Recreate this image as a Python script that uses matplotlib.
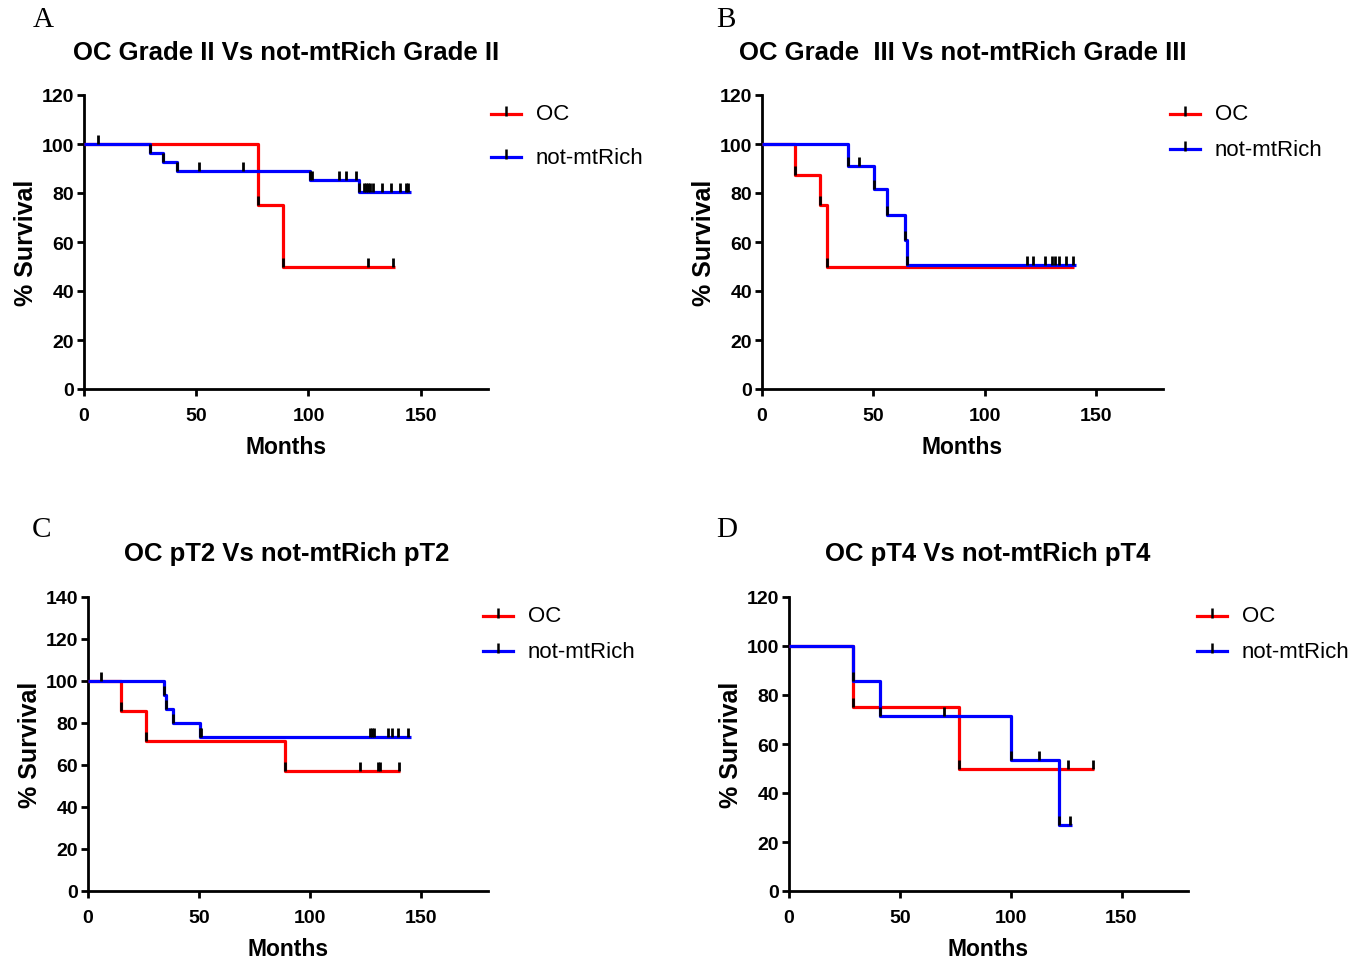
import matplotlib
matplotlib.use('Agg')
import matplotlib.pyplot as plt
from matplotlib.lines import Line2D
import numpy as np

NARROW = ['Liberation Sans Narrow', 'Liberation Sans', 'DejaVu Sans']
SERIF = ['Liberation Serif', 'DejaVu Serif']

# Panel A - Grade II
a_oc_t = [77.5, 88.5]
a_oc_s = [75, 50]
a_oc_end = 138.5
a_oc_cens = [126.6, 137.8]
a_nm_t = [29.5, 35.4, 41.4, 100.9, 122.5]
a_nm_s = [96.3, 92.6, 88.9, 85.2, 80.5]
a_nm_end = 145.5
a_nm_cens = [6.4, 51.3, 70.7, 101.4, 113.5, 116.8, 121.4, 124.7, 125.6, 126.5,
             127.4, 128.6, 132.9, 136.6, 141.0, 143.3, 144.3]

# Panel B - Grade III
b_oc_t = [14.9, 26.1, 29.1]
b_oc_s = [87.5, 75, 50]
b_oc_end = 140.0
b_oc_cens = []
b_nm_t = [38.4, 50.1, 56.1, 64.4, 65.2]
b_nm_s = [90.9, 81.8, 71.0, 60.7, 50.5]
b_nm_end = 141.0
b_nm_cens = [43.4, 118.9, 121.8, 127.0, 130.0, 131.5, 133.5, 136.5, 139.5]

# Panel C - pT2
c_oc_t = [14.9, 26.1, 88.6]
c_oc_s = [85.7, 71.4, 57.1]
c_oc_end = 140.5
c_oc_cens = [122.4, 130.4, 131.3, 139.8]
c_nm_t = [34.3, 35.2, 38.1, 50.6]
c_nm_s = [93.3, 86.7, 80.0, 73.3]
c_nm_end = 145.5
c_nm_cens = [5.9, 51.0, 126.8, 127.6, 128.5, 135.0, 136.9, 139.5, 144.0]

# Panel D - pT4
d_oc_t = [29.0, 76.7]
d_oc_s = [75, 50]
d_oc_end = 137.8
d_oc_cens = [125.8, 137.1]
d_nm_t = [29.0, 41.0, 100.0, 122.0]
d_nm_s = [85.7, 71.4, 53.6, 26.8]
d_nm_end = 127.6
d_nm_cens = [70.0, 113.0, 126.9]

titles = ['OC Grade II Vs not-mtRich Grade II',
          'OC Grade  III Vs not-mtRich Grade III',
          'OC pT2 Vs not-mtRich pT2',
          'OC pT4 Vs not-mtRich pT4']
letters = ['A', 'B', 'C', 'D']
ymaxes = [120, 120, 140, 120]
series_names = ['OC', 'not-mtRich']
colors = ['#ff0000', '#0000ff']


def surv_at(times, surv, t):
    s = 100.0
    for ti, si in zip(times, surv):
        if t >= ti:
            s = si
    return s


def draw_curve(ax, times, surv, end, cens, color):
    xs = [0] + list(times) + [end]
    ys = [100] + list(surv) + [surv[-1]]
    ax.step(xs, ys, where='post', color=color, lw=2.3, zorder=3,
            solid_capstyle='butt', clip_on=False)
    # tick marks at events and censored points
    marks = list(times) + list(cens)
    my = [surv_at(times, surv, t) for t in marks]
    ax.plot(marks, my, ls='none', marker=2, ms=6.5, mew=2.0, color='black',
            zorder=4, clip_on=False)


panels = [
    ((a_oc_t, a_oc_s, a_oc_end, a_oc_cens), (a_nm_t, a_nm_s, a_nm_end, a_nm_cens)),
    ((b_oc_t, b_oc_s, b_oc_end, b_oc_cens), (b_nm_t, b_nm_s, b_nm_end, b_nm_cens)),
    ((c_oc_t, c_oc_s, c_oc_end, c_oc_cens), (c_nm_t, c_nm_s, c_nm_end, c_nm_cens)),
    ((d_oc_t, d_oc_s, d_oc_end, d_oc_cens), (d_nm_t, d_nm_s, d_nm_end, d_nm_cens)),
]

W, H = 1363, 962
fig = plt.figure(figsize=(W / 100, H / 100), dpi=100)

# axes boxes in pixels: left, right, top(ymax), bottom(0)
boxes = [(84, 488, 96, 390), (762, 1163, 96, 390),
         (88, 488, 598, 892), (789, 1188, 598, 892)]
title_pos = [(286, 53), (963, 53), (287, 554), (988, 554)]
letter_pos = [(33, 20), (716, 20), (32, 530), (716, 530)]
legend_pos = [(491, 115, 158), (1170, 115, 150), (483, 617, 652), (1197, 617, 652)]

for i, (box, (oc, nm)) in enumerate(zip(boxes, panels)):
    l, r, t, b = box
    ax = fig.add_axes([l / W, 1 - b / H, (r - l) / W, (b - t) / H])
    draw_curve(ax, *oc, colors[0])
    draw_curve(ax, *nm, colors[1])
    ax.set_xlim(0, 180)
    ax.set_ylim(0, ymaxes[i])
    ax.set_xticks([0, 50, 100, 150])
    ax.set_yticks(np.arange(0, ymaxes[i] + 1, 20))
    for s in ['top', 'right']:
        ax.spines[s].set_visible(False)
    for s in ['left', 'bottom']:
        ax.spines[s].set_linewidth(2.0)
    ax.tick_params(width=2.0, length=5, direction='out')
    ax.tick_params(axis='x', pad=8)
    ax.tick_params(axis='y', pad=2)
    for lab in ax.get_xticklabels() + ax.get_yticklabels():
        lab.set_fontfamily(NARROW)
        lab.set_fontweight('bold')
        lab.set_fontsize(14)
    ax.set_xlabel('Months', family=NARROW, fontweight='bold', fontsize=16.5, labelpad=8)
    ax.set_ylabel('% Survival', family=NARROW, fontweight='bold', fontsize=18, labelpad=3)

    tx, ty = title_pos[i]
    fig.text(tx / W, 1 - ty / H, titles[i], ha='center', va='center',
             family=NARROW, fontweight='bold', fontsize=18.5)
    lx, ly = letter_pos[i]
    fig.text(lx / W, 1 - ly / H, letters[i], ha='left', va='center',
             family=SERIF, fontsize=21)

    gx, gy1, gy2 = legend_pos[i]
    for gy, name, col in zip([gy1, gy2], series_names, colors):
        fig.add_artist(Line2D([gx / W, (gx + 30) / W], [1 - gy / H, 1 - gy / H],
                              color=col, lw=2.3, transform=fig.transFigure))
        fig.add_artist(Line2D([(gx + 15) / W], [1 - (gy - 3) / H], ls='none',
                              marker='|', ms=7, mew=1.8, color='black',
                              transform=fig.transFigure))
        fig.text((gx + 45) / W, 1 - gy / H, name, ha='left', va='center',
                 family=NARROW, fontsize=16)

fig.savefig('out.png', dpi=100)
